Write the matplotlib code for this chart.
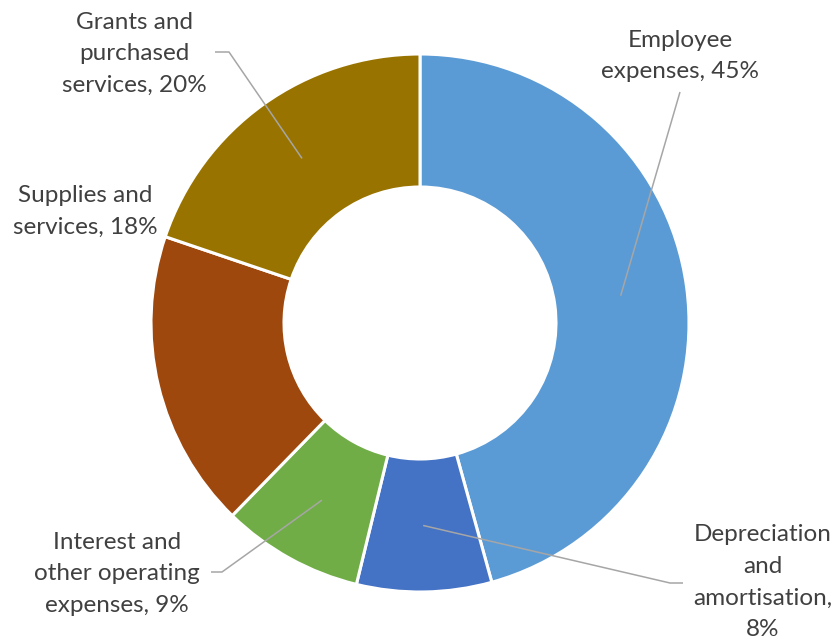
import numpy as np
import matplotlib.pyplot as plt

# expense breakdown (share of total, %)
categories = ["Employee\nexpenses, 45%",
              "Depreciation\nand\namortisation,\n8%",
              "Interest and\nother operating\nexpenses, 9%",
              "Supplies and\nservices, 18%",
              "Grants and\npurchased\nservices, 20%"]
shares = [45.7, 8.1, 8.5, 17.9, 19.8]
colors = ["#5B9BD5", "#4472C4", "#70AD47", "#9E480E", "#997300"]

W, H = 839, 641
fig = plt.figure(figsize=(W / 100, H / 100), dpi=100)
ax = fig.add_axes([0, 0, 1, 1])

cx, cy = 420, H - 323
r_out, r_in = 269, 136
wedges, _ = ax.pie(shares, colors=colors, startangle=90, counterclock=False,
                   center=(cx, cy), radius=r_out, frame=True,
                   wedgeprops=dict(width=r_out - r_in, edgecolor="white", linewidth=2.2))
ax.set_xlim(0, W)
ax.set_ylim(0, H)
ax.set_aspect("equal")
ax.axis("off")

# label text position (px from top-left), line elbow, line end near the label
layout = [
    dict(xy=(680, 56), elbow=None, end=(680, 92)),
    dict(xy=(763, 582), elbow=(670, 583), end=(683, 583)),
    dict(xy=(117, 574), elbow=(222, 572), end=(211, 572)),
    dict(xy=(85, 211), elbow=None, end=None),
    dict(xy=(134, 54), elbow=(229, 52), end=(215, 52)),
]

line_col = "#A6A6A6"
for w, lab, lay in zip(wedges, categories, layout):
    ang = np.deg2rad((w.theta1 + w.theta2) / 2)
    rm = (r_out + r_in) / 2
    sx, sy = cx + rm * np.cos(ang), cy + rm * np.sin(ang)
    if lay["end"] is not None:
        pts = [(sx, sy)]
        if lay["elbow"] is not None:
            pts.append((lay["elbow"][0], H - lay["elbow"][1]))
        pts.append((lay["end"][0], H - lay["end"][1]))
        xs, ys = zip(*pts)
        ax.plot(xs, ys, color=line_col, lw=1.1, solid_capstyle="butt")
    ax.text(lay["xy"][0], H - lay["xy"][1], lab, ha="center", va="center",
            fontsize=17.5, color="#404040", family="Lato", linespacing=1.63)

fig.savefig("out.png", dpi=100)
